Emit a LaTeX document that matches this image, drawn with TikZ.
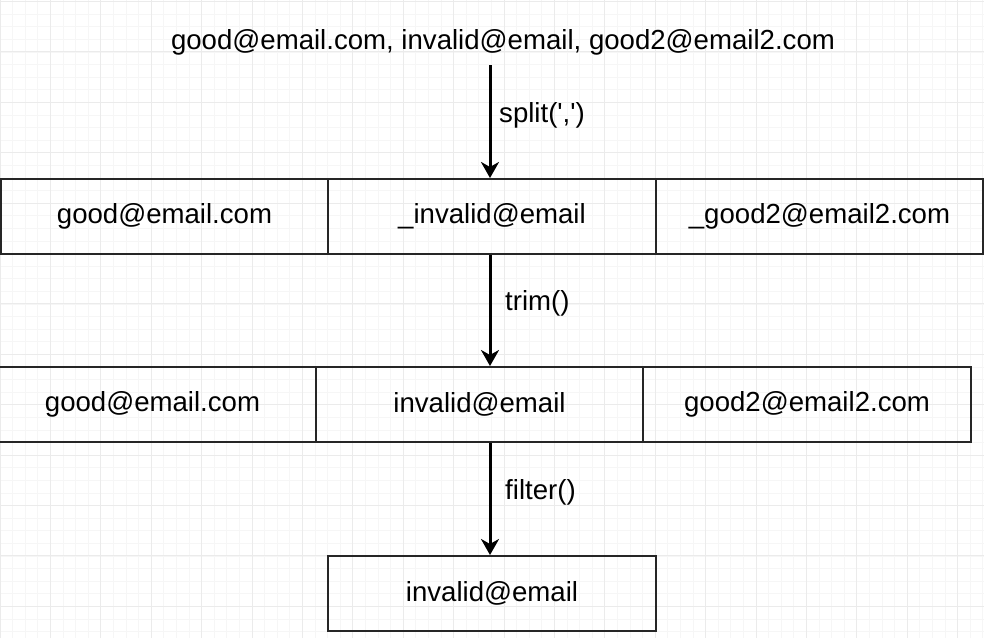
\documentclass[tikz,border=0pt]{standalone}
\usepackage{fontspec}
\setmainfont{Liberation Sans}
\usetikzlibrary{arrows.meta}
\begin{document}
\begin{tikzpicture}[x=1pt,y=-1pt,
  cell/.style={draw=black!85,line width=2pt,minimum height=75pt,inner sep=0pt,anchor=north west,font=\fontsize{27.6}{32}\selectfont},
  txt/.style={inner sep=0pt,font=\fontsize{27.6}{32}\selectfont},
  flow/.style={draw=black,line width=3pt,-{Stealth[length=16pt,width=18pt,inset=5pt]}},
  lbl/.style={inner sep=0pt,anchor=west,font=\fontsize{27.6}{32}\selectfont}]
\useasboundingbox (0,0) rectangle (984,638);
\fill[white] (0,0) rectangle (984,638);
% grid
\foreach \i in {0,...,78} {\draw[black!3.5,line width=0.8pt] ({\i*12.6},0) -- ({\i*12.6},638);}
\foreach \j in {0,...,51} {\draw[black!3.5,line width=0.8pt] (0,{1.5+\j*12.6}) -- (984,{1.5+\j*12.6});}
\foreach \i in {0,...,19} {\draw[black!8,line width=1pt] ({\i*50.4},0) -- ({\i*50.4},638);}
\foreach \j in {0,...,12} {\draw[black!8,line width=1pt] (0,{1.5+\j*50.4}) -- (984,{1.5+\j*50.4});}
% top text
\node[txt] (src) at (503,42) {good@email.com, invalid@email, good2@email2.com};
% row 1
\node[cell,minimum width=327pt] (a1) at (0,178) {good@email.com};
\node[cell,minimum width=328pt] (a2) at (327,178) {\_invalid@email};
\node[cell,minimum width=327pt] (a3) at (655,178) {\_good2@email2.com};
% row 2
\node[cell,minimum width=327pt] (b1) at (-12,366) {good@email.com};
\node[cell,minimum width=327pt] (b2) at (315,366) {invalid@email};
\node[cell,minimum width=328pt] (b3) at (642,366) {good2@email2.com};
% result
\node[cell,minimum width=328pt] (c) at (327,555) {invalid@email};
% connectors
\coordinate (s0) at (490,65);
\draw[flow] (s0) -- (490,178);
\draw[flow] (a2.south -| 490,0) -- (490,366);
\draw[flow] (b2.south -| 490,0) -- (c.north -| 490,0);
\node[lbl] (l1) at (499,115) {split(\textquotesingle,\textquotesingle)};
\node[lbl] (l2) at (505,303) {trim()};
\node[lbl] (l3) at (505,492) {filter()};
\end{tikzpicture}
\end{document}
